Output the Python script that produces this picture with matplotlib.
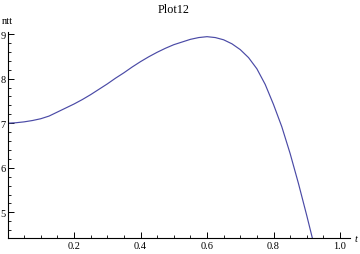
import matplotlib
matplotlib.use("Agg")
import matplotlib.pyplot as plt
from matplotlib.ticker import MultipleLocator

t_vals = [0.0, 0.025, 0.05, 0.075, 0.1, 0.125, 0.15, 0.175, 0.2, 0.225, 0.25,
          0.275, 0.3, 0.325, 0.35, 0.375, 0.4, 0.425, 0.45, 0.475, 0.5, 0.525,
          0.55, 0.575, 0.6, 0.625, 0.65, 0.675, 0.7, 0.725, 0.75, 0.775, 0.8,
          0.825, 0.85, 0.875, 0.9, 0.917]
ntt_vals = [7.00, 7.01, 7.03, 7.06, 7.10, 7.16, 7.25, 7.34, 7.43, 7.53, 7.64,
            7.76, 7.88, 8.01, 8.13, 8.26, 8.38, 8.49, 8.59, 8.68, 8.76, 8.82,
            8.88, 8.92, 8.94, 8.92, 8.87, 8.78, 8.65, 8.47, 8.22, 7.87, 7.42,
            6.92, 6.32, 5.65, 4.93, 4.42]
x_major = [0.2, 0.4, 0.6, 0.8, 1.0]
x_labels = ["0.2", "0.4", "0.6", "0.8", "1.0"]
y_major = [5, 6, 7, 8, 9]
y_labels = ["5", "6", "7", "8", "9"]
title = "Plot12"
xlabel = "t"
ylabel = "ntt"

W, H = 360, 255
fig = plt.figure(figsize=(W / 100, H / 100), dpi=100)
plt.rcParams['font.family'] = ['Liberation Serif', 'DejaVu Serif']

xmin, xmax = 0.0, 1.03
ymin, ymax = 4.42, 9.04
x0_px, xs = 7.5, 332.5
y9_px, ys = 35.0, 44.6
left = x0_px / W
right_px = x0_px + xmax * xs
top_px = y9_px - (ymax - 9) * ys
bot_px = y9_px + (9 - ymin) * ys
ax = fig.add_axes([left, 1 - bot_px / H, (right_px - x0_px) / W, (bot_px - top_px) / H])

ax.plot(t_vals, ntt_vals, color='#4a4aa6', lw=0.85, solid_capstyle='butt')
ax.set_xlim(xmin, xmax)
ax.set_ylim(ymin, ymax)

for s in ['top', 'right']:
    ax.spines[s].set_visible(False)
for s in ['left', 'bottom']:
    ax.spines[s].set_linewidth(0.8)
    ax.spines[s].set_color('black')

ax.set_xticks(x_major)
ax.set_xticklabels(x_labels)
ax.set_yticks(y_major)
ax.set_yticklabels(y_labels)
ax.xaxis.set_minor_locator(MultipleLocator(0.05))
ax.yaxis.set_minor_locator(MultipleLocator(0.2))
ax.tick_params(which='major', direction='in', length=4, width=0.7, labelsize=7.5, pad=2)
ax.tick_params(which='minor', direction='in', length=2.3, width=0.6)
ax.tick_params(axis='y', pad=1.5)

fig.text(174 / W, 1 - 10 / H, title, ha='center', va='center', fontsize=8.7)
fig.text(2 / W, 1 - 22 / H, ylabel, ha='left', va='center', fontsize=7.5)
fig.text(355 / W, 1 - 240 / H, xlabel, ha='left', va='center', fontsize=7.5, style='italic')

fig.savefig("out.png", dpi=100)
